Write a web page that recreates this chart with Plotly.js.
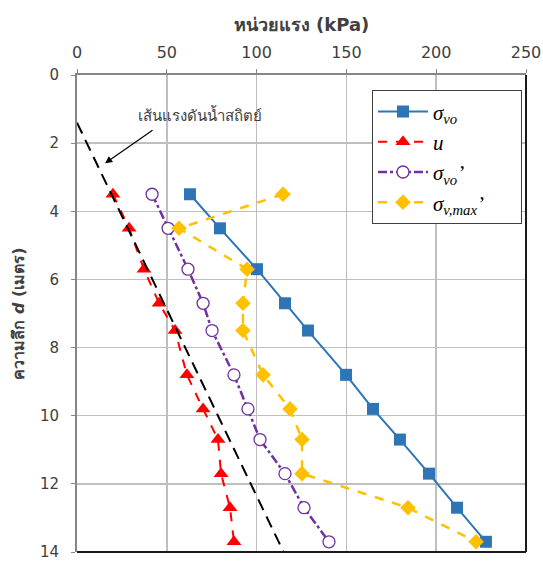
<!DOCTYPE html>
<html>
<head>
<meta charset="utf-8">
<script src="https://cdn.plot.ly/plotly-3.0.1.min.js"></script>
<style>html,body{margin:0;padding:0;background:#fff;}#chart{width:543px;height:562px;}</style>
</head>
<body>
<div id="chart"></div>
<script>
// Data
const depth = [3.5, 4.5, 5.7, 6.7, 7.5, 8.8, 9.8, 10.7, 11.7, 12.7, 13.7];
const sigmaVo = [62.9, 79.6, 100.2, 115.8, 128.6, 149.8, 164.8, 179.8, 196.0, 211.6, 227.7];
const poreU = [20.0, 29.0, 37.3, 45.7, 54.6, 61.2, 70.2, 78.5, 80.2, 85.2, 87.4];
const sigmaVoEff = [41.8, 50.7, 61.8, 70.2, 75.2, 87.4, 95.2, 101.9, 115.8, 126.4, 140.3];
const sigmaVMax = [114.7, 56.8, 94.7, 92.4, 92.4, 103.6, 118.6, 125.3, 125.3, 184.3, 222.2];
const hydroX = [0, 115];
const hydroDepth = [1.4, 14];
const xTicks = [0, 50, 100, 150, 200, 250];
const yTicks = [0, 2, 4, 6, 8, 10, 12, 14];
const names = ['σ<sub>vo</sub>', 'u', 'σ<sub>vo</sub>’', 'σ<sub>v,max</sub>’'];
const hydroLabel = 'เส้นแรงดันน้ำสถิตย์';
const xTitle = '<b>หน่วยแรง (kPa)</b>';
const yTitle = '<b>ความลึก <i>d</i> (เมตร)</b>';

const pad = '\u00a0\u00a0\u00a0\u00a0\u00a0\u00a0';
const traces = [
  {x: sigmaVo, y: depth, name: names[0], mode: 'lines+markers',
   line: {color: '#2E75B6', width: 2}, marker: {symbol: 'square', size: 12, color: '#2E75B6'}},
  {x: poreU, y: depth, name: names[1], mode: 'lines+markers',
   line: {color: '#FF0000', width: 2, dash: 'dash'}, marker: {symbol: 'triangle-up', size: 13, color: '#FF0000'}},
  {x: sigmaVoEff, y: depth, name: names[2], mode: 'lines+markers',
   line: {color: '#7030A0', width: 2.5, dash: 'dashdot'}, marker: {symbol: 'circle', size: 12, color: '#FFFFFF', line: {width: 1.3, color: '#7030A0'}}},
  {x: sigmaVMax, y: depth, name: names[3] + pad, mode: 'lines+markers',
   line: {color: '#FFC000', width: 2.5, dash: 'dash'}, marker: {symbol: 'diamond', size: 12, color: '#FFC000'}},
  {x: hydroX, y: hydroDepth, mode: 'lines', showlegend: false,
   line: {color: '#000000', width: 2, dash: '12px,7px'}, hoverinfo: 'skip'}
];

const layout = {
  width: 543, height: 562,
  margin: {l: 77, r: 17, t: 75, b: 10},
  paper_bgcolor: '#fff', plot_bgcolor: '#fff',
  font: {family: 'Tahoma, "DejaVu Sans", "Noto Sans", sans-serif', color: '#404040', size: 15},
  showlegend: true,
  legend: {x: 0.657, y: 0.968, xanchor: 'left', yanchor: 'top', bgcolor: '#fff',
           bordercolor: '#404040', borderwidth: 1, itemwidth: 50,
           font: {family: '"Liberation Serif", "Times New Roman", serif', size: 21, color: '#000', style: 'italic'},
           tracegroupgap: 0},
  xaxis: {side: 'top', range: [0, 250], tickvals: xTicks, ticktext: xTicks.map(String),
          showgrid: true, gridcolor: '#BFBFBF', gridwidth: 1.5,
          showline: true, linecolor: '#868686', linewidth: 2, mirror: false,
          ticks: 'outside', ticklen: 4, tickcolor: '#868686', zeroline: false,
          ticklabelstandoff: 5,
          tickfont: {size: 16, color: '#404040'},
          title: {text: xTitle, font: {size: 18, color: '#404040'}, standoff: 6}},
  yaxis: {range: [14, 0], tickvals: yTicks, ticktext: yTicks.map(String),
          showgrid: true, gridcolor: '#BFBFBF', gridwidth: 1.5,
          showline: true, linecolor: '#868686', linewidth: 2,
          ticks: 'outside', ticklen: 4, tickcolor: '#868686', zeroline: false,
          ticklabeloverflow: 'allow', ticklabelstandoff: 9,
          tickfont: {size: 15, color: '#404040'},
          title: {text: yTitle, font: {size: 16, color: '#404040'}, standoff: 11}},
  shapes: [
    {type: 'line', xref: 'paper', yref: 'paper', x0: 1, x1: 1, y0: 0, y1: 1, line: {color: '#1a1a1a', width: 2}},
    {type: 'line', xref: 'paper', yref: 'paper', x0: 0, x1: 1, y0: 0, y1: 0, line: {color: '#1a1a1a', width: 2}}
  ],
  annotations: [
    {x: 68.5, y: 1.16, xref: 'x', yref: 'y', text: hydroLabel, showarrow: false,
     font: {size: 15, color: '#404040'}},
    {x: 15.6, y: 2.59, xref: 'x', yref: 'y', text: '', showarrow: true,
     ax: 49, ay: -34, arrowhead: 2, arrowsize: 1.2, arrowwidth: 1.2, arrowcolor: '#000'}
  ]
};

Plotly.newPlot('chart', traces, layout, {displayModeBar: false, staticPlot: true});
</script>
</body>
</html>
